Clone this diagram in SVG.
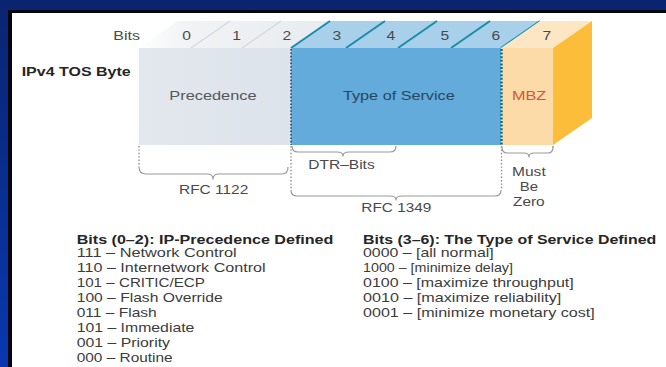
<svg xmlns="http://www.w3.org/2000/svg" width="666" height="367" viewBox="0 0 666 367">
  <defs>
    <linearGradient id="bg" x1="0" y1="0" x2="0" y2="1">
      <stop offset="0" stop-color="#0a246f"/>
      <stop offset="1" stop-color="#0838b0"/>
    </linearGradient>
    <linearGradient id="grayTop" x1="0" y1="0" x2="1" y2="0">
      <stop offset="0" stop-color="#ffffff"/>
      <stop offset="0.25" stop-color="#f1f3f5"/>
      <stop offset="1" stop-color="#e8ebef"/>
    </linearGradient>
    <linearGradient id="grayFront" x1="0" y1="0" x2="1" y2="0">
      <stop offset="0" stop-color="#e3e8ee"/>
      <stop offset="1" stop-color="#dce3ea"/>
    </linearGradient>
    <style>
      text { font-family: "Liberation Sans", Arial, sans-serif; }
      .lbl { font-size: 13px; fill: #4a4a4a; }
      .bit { font-size: 12px; fill: #4a4a4a; }
      .hd { font-size: 13px; font-weight: bold; fill: #262626; }
      .row { font-size: 13px; fill: #3c3c3c; }
      .prec { fill: #575757; }
      .tos { fill: #2c4660; }
      .mbz { fill: #d9533a; }
      .brace { fill: none; stroke: #9a9a9a; stroke-width: 1.2; stroke-linejoin: round; }
      .dot { fill: none; stroke: #8c8c8c; stroke-width: 1.4; stroke-dasharray: 1.4 2; }
      .dotDark { fill: none; stroke: #1f5070; stroke-width: 1.6; stroke-dasharray: 1.6 1.8; }
      .dotTeal { fill: none; stroke: #0d6c7c; stroke-width: 2.4; stroke-dasharray: 2 1.6; }
      .lineGray { stroke: #d3d8de; stroke-width: 1.2; }
      .lineTeal { stroke: #1b8ca8; stroke-width: 2; }
    </style>
  </defs>

  <!-- page background and frame -->
  <rect x="0" y="0" width="666" height="367" fill="url(#bg)"/>
  <rect x="8" y="10" width="658" height="357" fill="#03060f"/>
  <rect x="12" y="13" width="654" height="354" fill="#ffffff"/>

  <!-- bit numbering row -->
  <g id="bits-header">
    <text class="bit" x="113.3" y="40" textLength="26.7" lengthAdjust="spacingAndGlyphs">Bits</text>
  </g>

  <g id="ipv4-tos-byte-label">
    <text class="hd" x="21.7" y="76" style="font-size:12px" textLength="109" lengthAdjust="spacingAndGlyphs">IPv4 TOS Byte</text>
  </g>

  <!-- bits 0-2 -->
  <g id="precedence">
    <polygon points="139,48 178,21 330,21 291,48" fill="url(#grayTop)"/>
    <line class="lineGray" x1="191" y1="48" x2="230" y2="21"/>
    <line class="lineGray" x1="242" y1="48" x2="281" y2="21"/>
    <rect x="139" y="48" width="152" height="97" fill="url(#grayFront)"/>
    <text class="bit" x="182.3" y="40" textLength="8.7" lengthAdjust="spacingAndGlyphs">0</text>
    <text class="bit" x="232.3" y="40" textLength="8.7" lengthAdjust="spacingAndGlyphs">1</text>
    <text class="bit" x="282.6" y="40" textLength="8.7" lengthAdjust="spacingAndGlyphs">2</text>
    <text class="lbl prec" x="169.3" y="99.5" textLength="87.3" lengthAdjust="spacingAndGlyphs">Precedence</text>
  </g>

  <!-- bits 3-6 -->
  <g id="type-of-service">
    <polygon points="291,48 330,21 540,21 501,48" fill="#a8d0ea"/>
    <line class="lineTeal" x1="291" y1="48" x2="330" y2="21"/>
    <line class="lineTeal" x1="346" y1="48" x2="385" y2="21"/>
    <line class="lineTeal" x1="398" y1="48" x2="437" y2="21"/>
    <line class="lineTeal" x1="451" y1="48" x2="490" y2="21"/>
    <line class="lineTeal" x1="501" y1="48" x2="540" y2="21"/>
    <rect x="291" y="48" width="210" height="97" fill="#62abdb"/>
    <text class="bit" x="332.6" y="40" textLength="8.7" lengthAdjust="spacingAndGlyphs">3</text>
    <text class="bit" x="386.6" y="40" textLength="8.7" lengthAdjust="spacingAndGlyphs">4</text>
    <text class="bit" x="440.6" y="40" textLength="8.7" lengthAdjust="spacingAndGlyphs">5</text>
    <text class="bit" x="491.6" y="40" textLength="8.7" lengthAdjust="spacingAndGlyphs">6</text>
    <text class="lbl tos" x="343" y="99.5" textLength="111.7" lengthAdjust="spacingAndGlyphs">Type of Service</text>
  </g>

  <!-- bit 7 -->
  <g id="mbz">
    <polygon points="501,48 540,21 592,21 553,48" fill="#fde6c4"/>
    <polygon points="553,48 592,21 592,118 553,145" fill="#fbbd3a"/>
    <rect x="501" y="48" width="52" height="97" fill="#fcdba8"/>
    <text class="bit" x="542.6" y="40" textLength="8.7" lengthAdjust="spacingAndGlyphs">7</text>
    <text class="lbl mbz" x="512" y="99.5" textLength="34.3" lengthAdjust="spacingAndGlyphs">MBZ</text>
  </g>

  <!-- field boundaries and brackets -->
  <g id="connectors">
    <line class="dotDark" x1="291" y1="49" x2="291" y2="145"/>
    <line class="dotTeal" x1="501.5" y1="49" x2="501.5" y2="145"/>
    <line class="dot" x1="139" y1="146" x2="139" y2="167"/>
    <line class="dot" x1="291" y1="146" x2="291" y2="190"/>
    <line class="dot" x1="501.5" y1="146" x2="501.5" y2="190"/>
    <line class="dot" x1="553" y1="146" x2="553" y2="148"/>

    <path class="brace" d="M139,167 Q139,174 146,174 L207,174 Q213,174 213,179 Q213,174 219,174 L282,174 Q288,174 288,167"/>
    <path class="brace" d="M292,146 Q292,152 298,152 L337,152 Q343,152 343,156 Q343,152 349,152 L390,152 Q396,152 396,146"/>
    <path class="brace" d="M291,190 Q291,196 297,196 L390,196 Q396,196 396,200 Q396,196 402,196 L495,196 Q501,196 501,190"/>
    <path class="brace" d="M502,147 Q502,153 507,153 L524,153 Q529,153 529,157 Q529,153 534,153 L548,153 Q553,153 553,147"/>
  </g>

  <g id="bracket-labels">
    <text class="lbl" x="308.3" y="169" textLength="66.4" lengthAdjust="spacingAndGlyphs">DTR–Bits</text>
    <text class="lbl" x="179" y="194" textLength="69.3" lengthAdjust="spacingAndGlyphs">RFC 1122</text>
    <text class="lbl" x="361.3" y="211.5" textLength="70" lengthAdjust="spacingAndGlyphs">RFC 1349</text>
    <text class="lbl" x="512" y="176" textLength="33.7" lengthAdjust="spacingAndGlyphs">Must</text>
    <text class="lbl" x="519.7" y="190.7" textLength="18.3" lengthAdjust="spacingAndGlyphs">Be</text>
    <text class="lbl" x="513" y="205.7" textLength="31.7" lengthAdjust="spacingAndGlyphs">Zero</text>
  </g>

  <!-- precedence values -->
  <g id="precedence-table">
    <text class="hd" x="76.7" y="243.5" textLength="256.7" lengthAdjust="spacingAndGlyphs">Bits (0–2): IP-Precedence Defined</text>
    <text class="row" x="76.7" y="257" textLength="160" lengthAdjust="spacingAndGlyphs">111 – Network Control</text>
    <text class="row" x="76.7" y="272" textLength="189" lengthAdjust="spacingAndGlyphs">110 – Internetwork Control</text>
    <text class="row" x="76.7" y="287" textLength="128.3" lengthAdjust="spacingAndGlyphs">101 – CRITIC/ECP</text>
    <text class="row" x="76.7" y="302" textLength="146" lengthAdjust="spacingAndGlyphs">100 – Flash Override</text>
    <text class="row" x="76.7" y="317" textLength="80" lengthAdjust="spacingAndGlyphs">011 – Flash</text>
    <text class="row" x="76.7" y="332" textLength="117.7" lengthAdjust="spacingAndGlyphs">101 – Immediate</text>
    <text class="row" x="76.7" y="347" textLength="93.3" lengthAdjust="spacingAndGlyphs">001 – Priority</text>
    <text class="row" x="76.7" y="362" textLength="96" lengthAdjust="spacingAndGlyphs">000 – Routine</text>
  </g>

  <!-- type of service values -->
  <g id="tos-table">
    <text class="hd" x="363" y="243.5" textLength="293.3" lengthAdjust="spacingAndGlyphs">Bits (3–6): The Type of Service Defined</text>
    <text class="row" x="363" y="257" textLength="130.7" lengthAdjust="spacingAndGlyphs">0000 – [all normal]</text>
    <text class="row" x="363" y="272" style="font-size:13px" textLength="150" lengthAdjust="spacingAndGlyphs"><tspan>1000 – </tspan><tspan>[minimize delay]</tspan></text>
    <text class="row" x="363" y="287" textLength="210.7" lengthAdjust="spacingAndGlyphs">0100 – [maximize throughput]</text>
    <text class="row" x="363" y="302" textLength="198.3" lengthAdjust="spacingAndGlyphs">0010 – [maximize reliability]</text>
    <text class="row" x="363" y="317" textLength="231.7" lengthAdjust="spacingAndGlyphs">0001 – [minimize monetary cost]</text>
  </g>
</svg>
